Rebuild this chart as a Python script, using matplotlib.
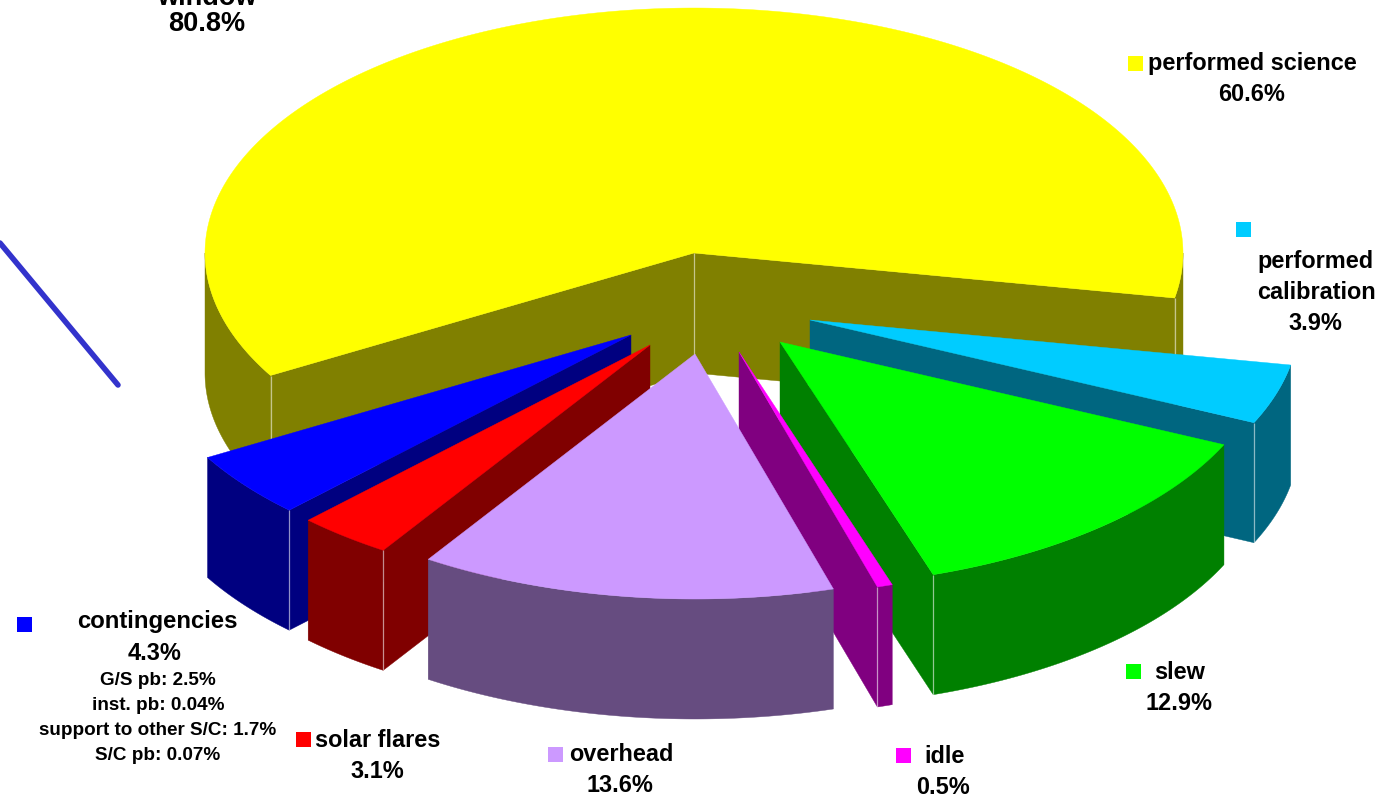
# -*- coding: utf-8 -*-
import numpy as np
import matplotlib
matplotlib.use('Agg')
import matplotlib.pyplot as plt
from matplotlib.patches import Polygon, Rectangle

plt.rcParams['font.family'] = ['Liberation Sans', 'DejaVu Sans']
plt.rcParams['font.weight'] = 'bold'

# data, clockwise from the left edge of the big slice
names = ['performed science', 'performed calibration', 'slew', 'idle',
         'overhead', 'solar flares', 'contingencies']
values = [60.6, 3.9, 12.9, 0.5, 13.6, 3.1, 4.3]
window_name = 'window'
window_value = 80.8
sub_names = ['G/S pb', 'inst. pb', 'support to other S/C', 'S/C pb']
sub_values = ['2.5', '0.04', '1.7', '0.07']

# styles
top_colors = ['#ffff00', '#00ccff', '#00ff00', '#ff00ff', '#cc99ff', '#ff0000', '#0000ff']
side_colors = ['#808000', '#006680', '#008000', '#800080', '#664c80', '#800000', '#000080']
offsets = [(0, 0), (116, 67), (86, 89), (45, 99), (1, 101), (-44, 92), (-63, 82)]
draw_order = [0, 1, 2, 6, 5, 3, 4]
cx, cy, rx, ry, depth = 694, 253, 489, 245, 120
start_angle = 150.0

fig = plt.figure(figsize=(13.89, 7.98), dpi=100)
ax = fig.add_axes([0, 0, 1, 1])
ax.set_xlim(0, 1389)
ax.set_ylim(798, 0)
ax.axis('off')


def rim(t, off):
    return np.c_[cx + off[0] + rx*np.cos(np.radians(t)), cy + off[1] + ry*np.sin(np.radians(t))]


def fill(pts, color):
    ax.add_patch(Polygon(pts, closed=True, fc=color, ec=color, lw=0.3))


def corner(p):
    ax.plot([p[0], p[0]], [p[1], p[1] + depth], color='#ffffff', alpha=0.55, lw=0.9,
            solid_capstyle='butt', zorder=1)


def wall(t0, t1, off, color):
    # outer wall, only the near half of the rim can be seen
    for lo, hi in [(-360, -180), (0, 180), (360, 540)]:
        a, b = max(t0, lo), min(t1, hi)
        if b > a:
            p = rim(np.linspace(a, b, 200), off)
            fill(np.vstack([p, p[::-1] + [0, depth]]), color)


def draw_slice(t0, t1, off, top, side):
    apex = np.array([cx + off[0], cy + off[1]], dtype=float)
    p0 = rim(np.array([t0]), off)[0]
    p1 = rim(np.array([t1]), off)[0]
    if np.cos(np.radians(t0)) < 0:
        fill([apex, p0, p0 + [0, depth], apex + [0, depth]], side)
    if np.cos(np.radians(t1)) > 0:
        fill([apex, p1, p1 + [0, depth], apex + [0, depth]], side)
    wall(t0, t1, off, side)
    fill(np.vstack([apex, rim(np.linspace(t0, t1, 300), off)]), top)
    if np.cos(np.radians(t0)) < 0:
        corner(p0)
    if np.cos(np.radians(t1)) > 0:
        corner(p1)
    if t1 - t0 > 180:
        corner(apex)


edges = start_angle + np.r_[0, np.cumsum(values)]*360.0/np.sum(values)
for i in draw_order:
    draw_slice(edges[i], edges[i + 1], offsets[i], top_colors[i], side_colors[i])

# stray leader line
ax.plot([0, 118], [243, 385], color='#3333cc', lw=4, solid_capstyle='round')

# legend keys
key_pos = [(1128, 56), (1236, 222), (1126, 664), (896, 748), (548, 747), (296, 732), (17, 617)]
for (x, y), c in zip(key_pos, top_colors):
    ax.add_patch(Rectangle((x, y), 15, 15, fc=c, ec='none'))


def label(x, y, s, size=16.9):
    ax.text(x, y, s, ha='center', va='baseline', fontsize=size, fontweight='bold', color='#000000')


pct = ['%.1f%%' % v for v in values]
label(207, 5, window_name, size=19.5)
label(207, 31, '%.1f%%' % window_value, size=19.5)
label(1252, 70, names[0])
label(1252, 101, pct[0])
word1, word2 = names[1].split(' ')
label(1316, 268, word1)
label(1316, 299, word2)
label(1315, 330, pct[1])
label(1180, 679, names[2])
label(1179, 710, pct[2])
label(945, 763, names[3])
label(943, 794, pct[3])
label(621, 761, names[4])
label(620, 792, pct[4])
label(378, 747, names[5])
label(377, 778, pct[5])
label(157, 628, names[6], size=17.2)
label(155, 660, pct[6])
for k, (n, v) in enumerate(zip(sub_names, sub_values)):
    label(158, 685 + 25*k, '%s: %s%%' % (n, v), size=13.6)

fig.savefig('out.png', dpi=100)
